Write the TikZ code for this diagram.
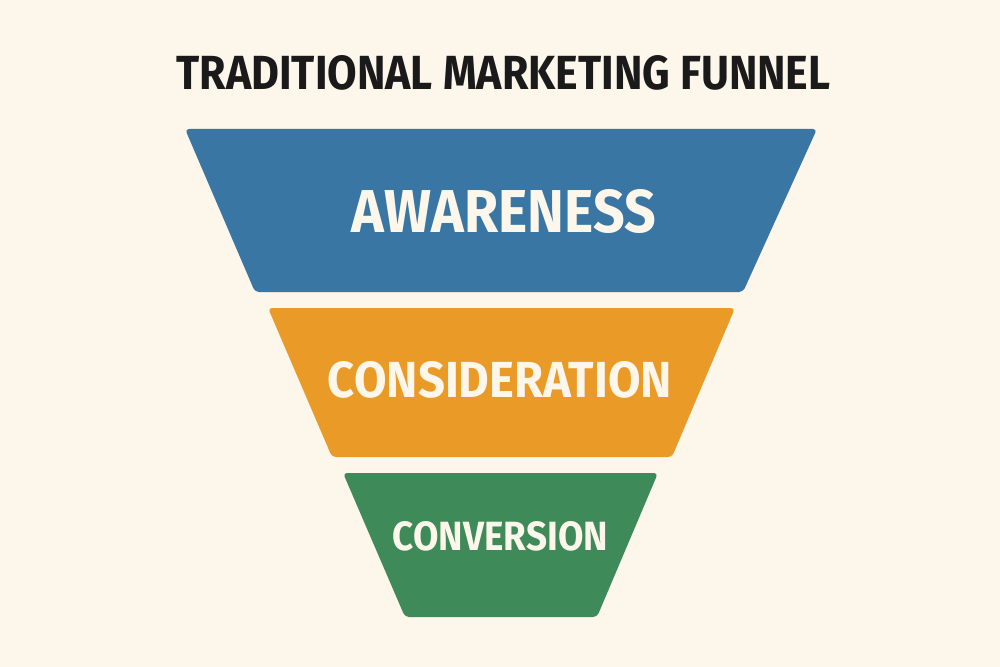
\documentclass[tikz,border=0pt]{standalone}
\usepackage{fontspec}
\setmainfont{Fira Sans}
\usepackage{graphicx}
\definecolor{bgc}{HTML}{FDF6EB}
\definecolor{bluec}{HTML}{3A76A3}
\definecolor{orangec}{HTML}{EA9A26}
\definecolor{greenc}{HTML}{3E8A58}
\definecolor{titlec}{HTML}{1A1A1A}
\newlength\pxu
\setlength\pxu{0.75pt}
\begin{document}
\begin{tikzpicture}[x=0.75pt,y=-0.75pt,
  stage/.style={rounded corners=3pt},
  lbl/.style={inner sep=0pt,text=bgc,font=\bfseries}]
\fill[bgc] (0,0) rectangle (1000,667);
\useasboundingbox (0,0) rectangle (1000,667);
\node[inner sep=0pt,text=titlec,font=\bfseries] (title) at (503.5,73) {\resizebox{654\pxu}{34\pxu}{TRADITIONAL MARKETING FUNNEL}};
\fill[bluec,stage] (185,129) -- (817,129) -- (743,292) -- (255,292) -- cycle;
\fill[orangec,stage] (268,308) -- (735,308) -- (672,457) -- (332,457) -- cycle;
\fill[greenc,stage] (343,473) -- (658,473) -- (597,617) -- (405,617) -- cycle;
\node[lbl] (aw) at (504,211.5) {\resizebox{304\pxu}{43\pxu}{AWARENESS}};
\node[lbl] (co) at (500,380) {\resizebox{344\pxu}{36\pxu}{CONSIDERATION}};
\node[lbl] (cv) at (500.5,536.5) {\resizebox{215\pxu}{29\pxu}{CONVERSION}};
\end{tikzpicture}
\end{document}
